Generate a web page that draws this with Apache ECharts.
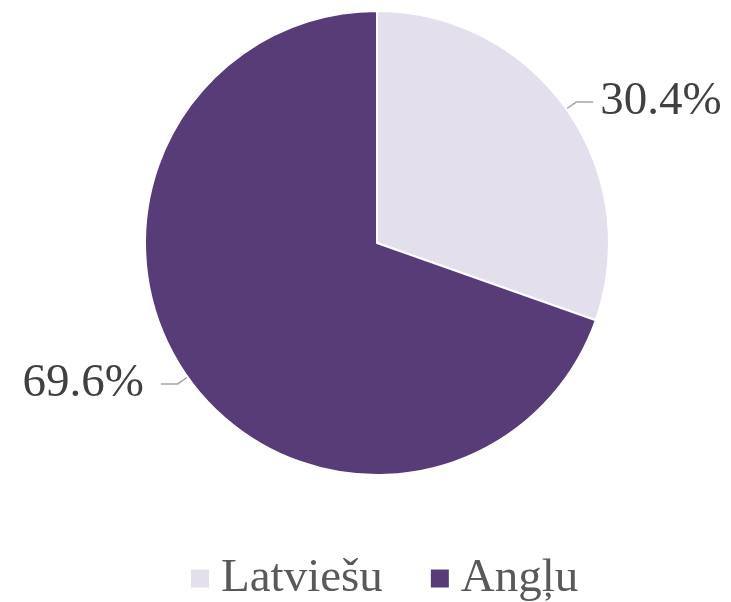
<!DOCTYPE html>
<html>
<head>
<meta charset="utf-8">
<script src="https://cdn.jsdelivr.net/npm/echarts@6/dist/echarts.min.js"></script>
<style>
html,body{margin:0;padding:0;background:#fff;}
#chart{width:731px;height:602px;}
</style>
</head>
<body>
<div id="chart"></div>
<script>
var categories = ["Latviešu", "Angļu"];
var values = [30.4, 69.6];
var colors = ["#E4DFEC", "#573C78"];
var labelPads = [[0, 0, 0, 2], [0, 12, 0, 0]];

var chart = echarts.init(document.getElementById('chart'), null, {renderer: 'canvas'});
var data = categories.map(function (c, i) {
  return {name: c, value: values[i], itemStyle: {color: colors[i]}, label: {padding: labelPads[i]}};
});
chart.setOption({
  animation: false,
  legend: {
    bottom: 0,
    left: 189,
    padding: 0,
    itemWidth: 20,
    itemHeight: 20,
    itemGap: 46,
    icon: 'rect',
    textStyle: {fontFamily: 'Liberation Serif', fontSize: 47, color: '#595959', padding: [0, 0, 0, 6]},
    data: categories
  },
  series: [{
    type: 'pie',
    center: [377, 243],
    radius: 232,
    startAngle: 90,
    clockwise: true,
    data: data,
    itemStyle: {borderColor: '#ffffff', borderWidth: 2},
    label: {
      show: true,
      position: 'outside',
      overflow: 'none',
      formatter: function (p) { return p.value.toFixed(1) + '%'; },
      fontFamily: 'Liberation Serif',
      fontSize: 47,
      color: '#404040'
    },
    labelLine: {
      show: true,
      length: 12,
      length2: 17,
      lineStyle: {color: '#A6A6A6', width: 1.5}
    }
  }]
});
</script>
</body>
</html>
